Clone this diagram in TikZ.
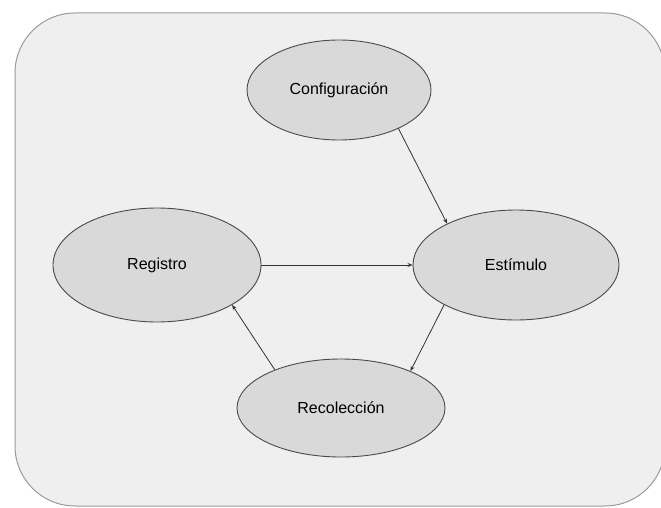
\documentclass[tikz,border=0pt]{standalone}
\usepackage{fontspec}
\setmainfont{Liberation Sans}
\usetikzlibrary{shapes.geometric,arrows.meta}
\definecolor{bgfill}{HTML}{EFEFEF}
\definecolor{bgline}{HTML}{9A9A9A}
\definecolor{elfill}{HTML}{D9D9D9}
\definecolor{elline}{HTML}{4A4A4A}
\definecolor{arline}{HTML}{333333}
\tikzset{
  stage/.style={ellipse, draw=elline, fill=elfill, line width=0.9pt, inner sep=0pt,
    font=\fontsize{16}{19}\selectfont},
  link/.style={draw=arline, line width=0.8pt, -{Stealth[length=5pt,width=4pt]}}
}
\begin{document}
\begin{tikzpicture}[x=1pt,y=-1pt]
\useasboundingbox (0,0) rectangle (661,508);
\begin{scope}
\clip (0,0) rectangle (661,508);
\draw[draw=bgline, fill=bgfill, line width=1pt, rounded corners=60pt] (15,13) rectangle (665,506);
\end{scope}
\node[stage, minimum width=184pt, minimum height=100pt] (conf) at (339,90) {Configuración};
\node[stage, minimum width=208pt, minimum height=114pt] (reg) at (157,265) {Registro};
\node[stage, minimum width=206pt, minimum height=110pt] (est) at (516,265) {Estímulo};
\node[stage, minimum width=208pt, minimum height=98pt] (rec) at (341,408) {Recolección};
\draw[link] (conf.-33) -- (est.149);
\draw[link] (reg.east) -- (est.west);
\draw[link] (est.209) -- (rec.28);
\draw[link] (rec.150) -- (reg.-28);
\end{tikzpicture}
\end{document}
